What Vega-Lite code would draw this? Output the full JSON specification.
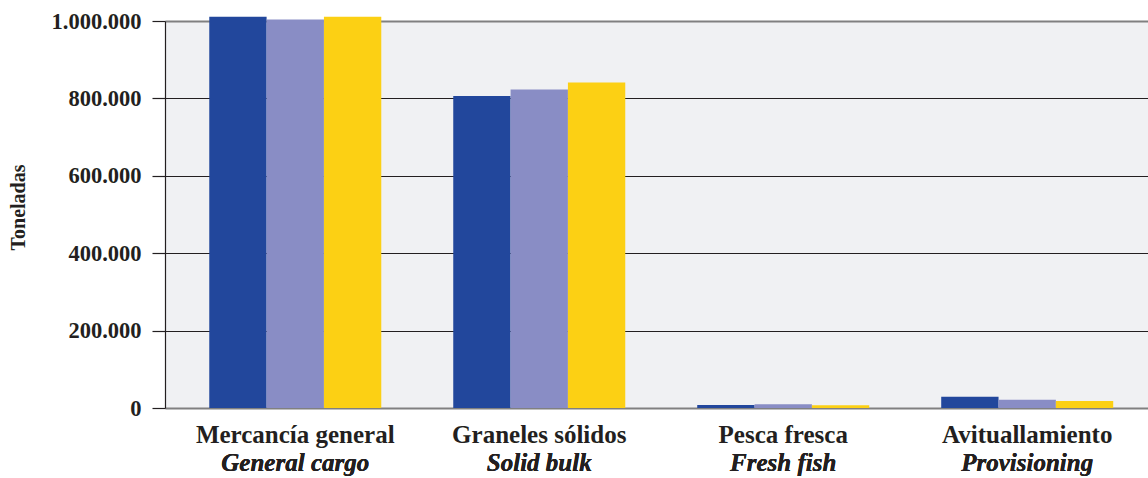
{
  "$schema": "https://vega.github.io/schema/vega-lite/v6.json",
  "autosize": "none",
  "width": 983,
  "height": 387,
  "padding": {"left": 165, "top": 21, "right": 0, "bottom": 70},
  "background": "white",
  "config": {
    "locale": {"number": {"decimal": ",", "thousands": ".", "grouping": [3], "currency": ["", " €"]}},
    "view": {"fill": "#f0f1f3", "stroke": null},
    "font": "Liberation Serif"
  },
  "data": {
    "values": [
      {"cat": "Mercancía general", "en": "General cargo", "serie": "Año 1", "t": 1011000},
      {"cat": "Mercancía general", "en": "General cargo", "serie": "Año 2", "t": 1004000},
      {"cat": "Mercancía general", "en": "General cargo", "serie": "Año 3", "t": 1011000},
      {"cat": "Graneles sólidos", "en": "Solid bulk", "serie": "Año 1", "t": 806000},
      {"cat": "Graneles sólidos", "en": "Solid bulk", "serie": "Año 2", "t": 823000},
      {"cat": "Graneles sólidos", "en": "Solid bulk", "serie": "Año 3", "t": 841000},
      {"cat": "Pesca fresca", "en": "Fresh fish", "serie": "Año 1", "t": 7500},
      {"cat": "Pesca fresca", "en": "Fresh fish", "serie": "Año 2", "t": 10000},
      {"cat": "Pesca fresca", "en": "Fresh fish", "serie": "Año 3", "t": 7000},
      {"cat": "Avituallamiento", "en": "Provisioning", "serie": "Año 1", "t": 29000},
      {"cat": "Avituallamiento", "en": "Provisioning", "serie": "Año 2", "t": 21000},
      {"cat": "Avituallamiento", "en": "Provisioning", "serie": "Año 3", "t": 18000}
    ]
  },
  "encoding": {
    "x": {
      "field": "cat",
      "type": "nominal",
      "sort": ["Mercancía general", "Graneles sólidos", "Pesca fresca", "Avituallamiento"],
      "scale": {"paddingInner": 0.295, "paddingOuter": 0.162, "align": 0.56},
      "axis": {
        "title": null,
        "domain": false,
        "ticks": false,
        "grid": false,
        "labelAngle": 0,
        "labelFont": "Liberation Serif",
        "labelFontWeight": "bold",
        "labelFontSize": 25,
        "labelColor": "#231f20",
        "labelBaseline": "alphabetic",
        "labelPadding": 34,
        "labelLimit": 300
      }
    }
  },
  "layer": [
    {
      "mark": {"type": "bar"},
      "encoding": {
        "xOffset": {"field": "serie", "type": "nominal", "scale": {"paddingInner": 0, "paddingOuter": 0}},
        "y": {
          "field": "t",
          "type": "quantitative",
          "scale": {"domain": [0, 1000000], "nice": false, "clamp": false},
          "axis": {
            "title": "Toneladas",
            "titleFont": "Liberation Serif",
            "titleFontSize": 20,
            "titleFontWeight": "bold",
            "titleColor": "#231f20",
            "titleX": -147,
            "titleY": 186,
            "titleAngle": -90,
            "titleAlign": "center",
            "titleBaseline": "middle",
            "values": [0, 200000, 400000, 600000, 800000, 1000000],
            "format": ",d",
            "labelFont": "Liberation Serif",
            "labelFontWeight": "bold",
            "labelFontSize": 22.5,
            "labelColor": "#231f20",
            "labelPadding": 11,
            "tickSize": 13,
            "tickColor": "#231f20",
            "tickWidth": 1.2,
            "domainColor": "#231f20",
            "domainWidth": 1.2,
            "grid": true,
            "gridColor": {"condition": {"test": "datum.value === 0 || datum.value === 1000000", "value": "#808080"}, "value": "#231f20"},
            "gridWidth": {"condition": {"test": "datum.value === 0 || datum.value === 1000000", "value": 2}, "value": 1.2}
          }
        },
        "color": {
          "field": "serie",
          "type": "nominal",
          "scale": {"range": ["#22479c", "#898dc5", "#fcd014"]},
          "legend": null
        }
      }
    },
    {
      "mark": {
        "type": "text",
        "font": "Liberation Serif",
        "fontSize": 25,
        "fontWeight": "bold",
        "fontStyle": "italic",
        "color": "#231f20",
        "baseline": "alphabetic",
        "dy": 63
      },
      "encoding": {
        "y": {"datum": 0},
        "text": {"field": "en"}
      }
    }
  ]
}
